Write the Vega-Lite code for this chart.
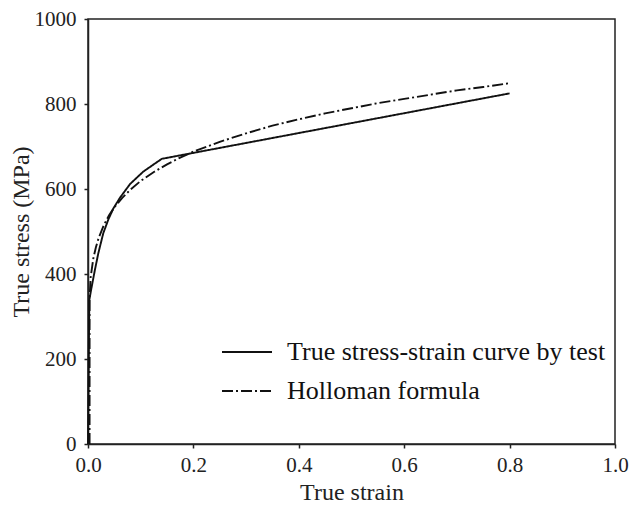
{
  "$schema": "https://vega.github.io/schema/vega-lite/v6.json",
  "width": 527,
  "height": 425,
  "autosize": {"type": "none"},
  "padding": {"left": 88, "top": 19, "right": 14, "bottom": 67},
  "background": "white",
  "config": {
    "view": {"stroke": "#222", "strokeWidth": 1.5},
    "font": "Liberation Serif",
    "axis": {
      "grid": false,
      "domainColor": "#222",
      "domainWidth": 1.5,
      "tickColor": "#222",
      "tickWidth": 1.5,
      "tickSize": 4,
      "labelFlush": false,
      "labelFont": "Liberation Serif",
      "labelFontSize": 21,
      "labelColor": "#222",
      "titleFont": "Liberation Serif",
      "titleFontSize": 24,
      "titleFontWeight": "normal",
      "titleColor": "#222"
    }
  },
  "data": {
    "values": [
      {"strain": 0.0, "stress": 0, "curve": "True stress-strain curve by test"},
      {"strain": 0.0025, "stress": 339, "curve": "True stress-strain curve by test"},
      {"strain": 0.007, "stress": 370, "curve": "True stress-strain curve by test"},
      {"strain": 0.013, "stress": 409, "curve": "True stress-strain curve by test"},
      {"strain": 0.0196, "stress": 449, "curve": "True stress-strain curve by test"},
      {"strain": 0.029, "stress": 496, "curve": "True stress-strain curve by test"},
      {"strain": 0.0385, "stress": 528, "curve": "True stress-strain curve by test"},
      {"strain": 0.048, "stress": 554, "curve": "True stress-strain curve by test"},
      {"strain": 0.061, "stress": 580, "curve": "True stress-strain curve by test"},
      {"strain": 0.08, "stress": 612, "curve": "True stress-strain curve by test"},
      {"strain": 0.105, "stress": 641, "curve": "True stress-strain curve by test"},
      {"strain": 0.14, "stress": 671, "curve": "True stress-strain curve by test"},
      {"strain": 0.8, "stress": 825, "curve": "True stress-strain curve by test"},
      {"strain": 0.003, "stress": 0, "curve": "Holloman formula"},
      {"strain": 0.003, "stress": 341, "curve": "Holloman formula"},
      {"strain": 0.005, "stress": 392, "curve": "Holloman formula"},
      {"strain": 0.01, "stress": 436, "curve": "Holloman formula"},
      {"strain": 0.015, "stress": 463, "curve": "Holloman formula"},
      {"strain": 0.02, "stress": 484, "curve": "Holloman formula"},
      {"strain": 0.03, "stress": 515, "curve": "Holloman formula"},
      {"strain": 0.04, "stress": 538, "curve": "Holloman formula"},
      {"strain": 0.05, "stress": 557, "curve": "Holloman formula"},
      {"strain": 0.065, "stress": 579, "curve": "Holloman formula"},
      {"strain": 0.08, "stress": 598, "curve": "Holloman formula"},
      {"strain": 0.1, "stress": 619, "curve": "Holloman formula"},
      {"strain": 0.125, "stress": 640, "curve": "Holloman formula"},
      {"strain": 0.15, "stress": 658, "curve": "Holloman formula"},
      {"strain": 0.175, "stress": 674, "curve": "Holloman formula"},
      {"strain": 0.2, "stress": 688, "curve": "Holloman formula"},
      {"strain": 0.25, "stress": 711, "curve": "Holloman formula"},
      {"strain": 0.3, "stress": 731, "curve": "Holloman formula"},
      {"strain": 0.35, "stress": 749, "curve": "Holloman formula"},
      {"strain": 0.4, "stress": 764, "curve": "Holloman formula"},
      {"strain": 0.45, "stress": 778, "curve": "Holloman formula"},
      {"strain": 0.5, "stress": 790, "curve": "Holloman formula"},
      {"strain": 0.55, "stress": 802, "curve": "Holloman formula"},
      {"strain": 0.6, "stress": 812, "curve": "Holloman formula"},
      {"strain": 0.65, "stress": 822, "curve": "Holloman formula"},
      {"strain": 0.7, "stress": 832, "curve": "Holloman formula"},
      {"strain": 0.75, "stress": 840, "curve": "Holloman formula"},
      {"strain": 0.8, "stress": 849, "curve": "Holloman formula"}
    ]
  },
  "mark": {"type": "line", "color": "#111", "strokeWidth": 1.9, "interpolate": "linear"},
  "encoding": {
    "x": {
      "field": "strain",
      "type": "quantitative",
      "scale": {"domain": [0, 1], "nice": false},
      "axis": {"values": [0, 0.2, 0.4, 0.6, 0.8, 1.0], "format": ".1f", "title": "True strain", "labelPadding": 6, "titlePadding": 5}
    },
    "y": {
      "field": "stress",
      "type": "quantitative",
      "scale": {"domain": [0, 1000], "nice": false},
      "axis": {"values": [0, 200, 400, 600, 800, 1000], "format": "d", "title": "True stress (MPa)", "labelPadding": 8, "titlePadding": 1}
    },
    "strokeDash": {
      "field": "curve",
      "type": "nominal",
      "scale": {
        "domain": ["True stress-strain curve by test", "Holloman formula"],
        "range": [[1, 0], [11, 3, 2, 3]]
      },
      "legend": {
        "orient": "none",
        "legendX": 133,
        "legendY": 307,
        "title": null,
        "symbolType": "stroke",
        "symbolSize": 2500,
        "symbolStrokeColor": "#111",
        "symbolStrokeWidth": 1.9,
        "labelFont": "Liberation Serif",
        "labelFontSize": 26,
        "labelColor": "#111",
        "labelLimit": 420,
        "labelOffset": 14,
        "rowPadding": -15
      }
    },
    "order": {"field": "strain", "type": "quantitative"}
  }
}
